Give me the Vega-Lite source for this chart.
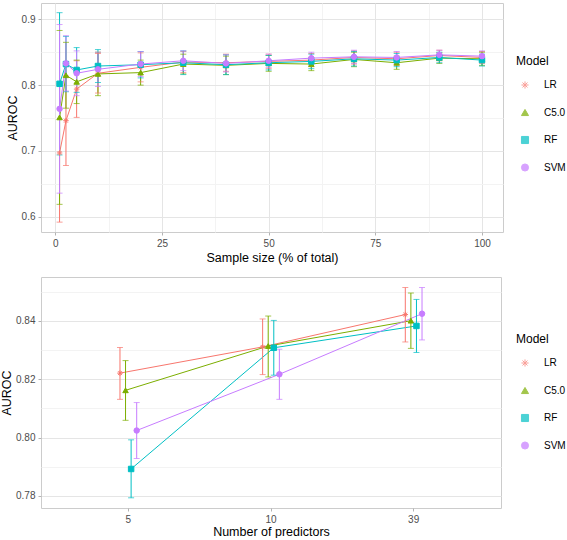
{
  "$schema": "https://vega.github.io/schema/vega-lite/v6.json",
  "padding": {"left": 0, "top": 2, "right": 0, "bottom": 0},
  "datasets": {
    "sample": [
      {"Model":"LR","x":1,"AUROC":0.697,"lo":0.592,"hi":0.802},
      {"Model":"LR","x":2.5,"AUROC":0.746,"lo":0.678,"hi":0.814},
      {"Model":"LR","x":5,"AUROC":0.794,"lo":0.751,"hi":0.837},
      {"Model":"LR","x":10,"AUROC":0.818,"lo":0.788,"hi":0.848},
      {"Model":"LR","x":20,"AUROC":0.827,"lo":0.805,"hi":0.849},
      {"Model":"LR","x":30,"AUROC":0.835,"lo":0.819,"hi":0.851},
      {"Model":"LR","x":40,"AUROC":0.834,"lo":0.821,"hi":0.847},
      {"Model":"LR","x":50,"AUROC":0.836,"lo":0.825,"hi":0.847},
      {"Model":"LR","x":60,"AUROC":0.838,"lo":0.828,"hi":0.848},
      {"Model":"LR","x":70,"AUROC":0.842,"lo":0.832,"hi":0.852},
      {"Model":"LR","x":80,"AUROC":0.840,"lo":0.830,"hi":0.850},
      {"Model":"LR","x":90,"AUROC":0.845,"lo":0.837,"hi":0.853},
      {"Model":"LR","x":100,"AUROC":0.842,"lo":0.833,"hi":0.851},
      {"Model":"C5.0","x":1,"AUROC":0.751,"lo":0.619,"hi":0.883},
      {"Model":"C5.0","x":2.5,"AUROC":0.815,"lo":0.765,"hi":0.865},
      {"Model":"C5.0","x":5,"AUROC":0.805,"lo":0.772,"hi":0.838},
      {"Model":"C5.0","x":10,"AUROC":0.817,"lo":0.784,"hi":0.850},
      {"Model":"C5.0","x":20,"AUROC":0.819,"lo":0.800,"hi":0.838},
      {"Model":"C5.0","x":30,"AUROC":0.832,"lo":0.817,"hi":0.847},
      {"Model":"C5.0","x":40,"AUROC":0.830,"lo":0.816,"hi":0.844},
      {"Model":"C5.0","x":50,"AUROC":0.833,"lo":0.821,"hi":0.845},
      {"Model":"C5.0","x":60,"AUROC":0.832,"lo":0.822,"hi":0.842},
      {"Model":"C5.0","x":70,"AUROC":0.839,"lo":0.828,"hi":0.850},
      {"Model":"C5.0","x":80,"AUROC":0.834,"lo":0.824,"hi":0.844},
      {"Model":"C5.0","x":90,"AUROC":0.841,"lo":0.833,"hi":0.849},
      {"Model":"C5.0","x":100,"AUROC":0.840,"lo":0.830,"hi":0.850},
      {"Model":"RF","x":1,"AUROC":0.802,"lo":0.694,"hi":0.910},
      {"Model":"RF","x":2.5,"AUROC":0.832,"lo":0.790,"hi":0.874},
      {"Model":"RF","x":5,"AUROC":0.823,"lo":0.789,"hi":0.857},
      {"Model":"RF","x":10,"AUROC":0.829,"lo":0.804,"hi":0.854},
      {"Model":"RF","x":20,"AUROC":0.831,"lo":0.811,"hi":0.851},
      {"Model":"RF","x":30,"AUROC":0.834,"lo":0.816,"hi":0.852},
      {"Model":"RF","x":40,"AUROC":0.831,"lo":0.816,"hi":0.846},
      {"Model":"RF","x":50,"AUROC":0.834,"lo":0.823,"hi":0.845},
      {"Model":"RF","x":60,"AUROC":0.836,"lo":0.825,"hi":0.847},
      {"Model":"RF","x":70,"AUROC":0.840,"lo":0.829,"hi":0.851},
      {"Model":"RF","x":80,"AUROC":0.838,"lo":0.828,"hi":0.848},
      {"Model":"RF","x":90,"AUROC":0.842,"lo":0.834,"hi":0.850},
      {"Model":"RF","x":100,"AUROC":0.838,"lo":0.829,"hi":0.847},
      {"Model":"SVM","x":1,"AUROC":0.764,"lo":0.636,"hi":0.892},
      {"Model":"SVM","x":2.5,"AUROC":0.833,"lo":0.791,"hi":0.875},
      {"Model":"SVM","x":5,"AUROC":0.818,"lo":0.784,"hi":0.852},
      {"Model":"SVM","x":10,"AUROC":0.824,"lo":0.798,"hi":0.850},
      {"Model":"SVM","x":20,"AUROC":0.832,"lo":0.813,"hi":0.851},
      {"Model":"SVM","x":30,"AUROC":0.837,"lo":0.822,"hi":0.852},
      {"Model":"SVM","x":40,"AUROC":0.833,"lo":0.820,"hi":0.846},
      {"Model":"SVM","x":50,"AUROC":0.837,"lo":0.827,"hi":0.847},
      {"Model":"SVM","x":60,"AUROC":0.841,"lo":0.832,"hi":0.850},
      {"Model":"SVM","x":70,"AUROC":0.843,"lo":0.833,"hi":0.853},
      {"Model":"SVM","x":80,"AUROC":0.842,"lo":0.833,"hi":0.851},
      {"Model":"SVM","x":90,"AUROC":0.846,"lo":0.839,"hi":0.853},
      {"Model":"SVM","x":100,"AUROC":0.844,"lo":0.836,"hi":0.852}
    ],
    "pred": [
      {"Model":"LR","npred":5,"AUROC":0.8221,"lo":0.8131,"hi":0.8309},
      {"Model":"LR","npred":10,"AUROC":0.8311,"lo":0.8216,"hi":0.8407},
      {"Model":"LR","npred":39,"AUROC":0.8422,"lo":0.8328,"hi":0.8515},
      {"Model":"C5.0","npred":5,"AUROC":0.8162,"lo":0.8059,"hi":0.8264},
      {"Model":"C5.0","npred":10,"AUROC":0.8314,"lo":0.8208,"hi":0.8417},
      {"Model":"C5.0","npred":39,"AUROC":0.8401,"lo":0.8306,"hi":0.8496},
      {"Model":"RF","npred":5,"AUROC":0.7892,"lo":0.7793,"hi":0.7992},
      {"Model":"RF","npred":10,"AUROC":0.8308,"lo":0.8214,"hi":0.8402},
      {"Model":"RF","npred":39,"AUROC":0.8383,"lo":0.8292,"hi":0.8474},
      {"Model":"SVM","npred":5,"AUROC":0.8024,"lo":0.7928,"hi":0.8120},
      {"Model":"SVM","npred":10,"AUROC":0.8217,"lo":0.8131,"hi":0.8303},
      {"Model":"SVM","npred":39,"AUROC":0.8425,"lo":0.8335,"hi":0.8515}
    ]
  },
  "vconcat": [
    {
      "width": 462,
      "height": 229,
      "data": {"name": "sample"},
      "encoding": {
        "x": {"field": "x", "type": "quantitative", "title": "Sample size (% of total)",
          "scale": {"domain": [-3.35, 104.92], "nice": false, "zero": false},
          "axis": {"values": [0, 12.5, 25, 37.5, 50, 62.5, 75, 87.5, 100], "titlePadding": 3,
            "labelExpr": "datum.value % 25 == 0 ? datum.label : ''",
            "gridColor": {"condition": {"test": "datum.value % 25 == 0", "value": "#E5E5E5"}, "value": "#F3F3F3"},
            "tickOpacity": {"condition": {"test": "datum.value % 25 == 0", "value": 1}, "value": 0}}},
        "y": {"field": "AUROC", "type": "quantitative", "title": "AUROC",
          "scale": {"domain": [0.577, 0.9247], "nice": false, "zero": false},
          "axis": {"values": [0.6, 0.65, 0.7, 0.75, 0.8, 0.85, 0.9], "format": ".1f",
            "labelExpr": "abs(datum.value*10 - round(datum.value*10)) < 0.01 ? datum.label : ''",
            "gridColor": {"condition": {"test": "abs(datum.value*10 - round(datum.value*10)) < 0.01", "value": "#E5E5E5"}, "value": "#F3F3F3"},
            "tickOpacity": {"condition": {"test": "abs(datum.value*10 - round(datum.value*10)) < 0.01", "value": 1}, "value": 0}}},
        "color": {"field": "Model", "type": "nominal",
          "scale": {"domain": ["LR", "C5.0", "RF", "SVM"], "range": ["#F8766D", "#7CAE00", "#00BFC4", "#C77CFF"]},
          "legend": {"title": "Model", "orient": "none", "legendX": 475, "legendY": 53}}
      },
      "layer": [
        {"mark": {"type": "line", "strokeWidth": 1}},
        {"mark": {"type": "rule", "strokeWidth": 1},
          "encoding": {"y": {"field": "lo", "type": "quantitative", "title": "AUROC"}, "y2": {"field": "hi"}}},
        {"mark": {"type": "tick", "orient": "horizontal", "size": 6, "thickness": 1},
          "encoding": {"y": {"field": "lo", "type": "quantitative", "title": "AUROC"}}},
        {"mark": {"type": "tick", "orient": "horizontal", "size": 6, "thickness": 1},
          "encoding": {"y": {"field": "hi", "type": "quantitative", "title": "AUROC"}}},
        {"mark": {"type": "point", "filled": true, "size": 30, "opacity": 1, "strokeWidth": 1},
          "encoding": {
            "stroke": {"field": "Model", "type": "nominal",
              "scale": {"domain": ["LR", "C5.0", "RF", "SVM"], "range": ["#F8766D", "#7CAE00", "#00BFC4", "#C77CFF"]},
              "legend": {"title": "Model", "orient": "none", "legendX": 475, "legendY": 53}},
            "shape": {"field": "Model", "type": "nominal",
              "scale": {"domain": ["LR", "C5.0", "RF", "SVM"], "range": ["M-1,0L1,0M0,-1L0,1M-0.7,-0.7L0.7,0.7M-0.7,0.7L0.7,-0.7", "triangle-up", "square", "circle"]},
              "legend": {"title": "Model", "orient": "none", "legendX": 475, "legendY": 53}}
          }}
      ]
    },
    {
      "width": 460,
      "height": 231,
      "data": {"name": "pred"},
      "encoding": {
        "x": {"field": "npred", "type": "ordinal", "sort": [5, 10, 39], "title": "Number of predictors",
          "scale": {"paddingInner": 0.8437, "paddingOuter": 0.534},
          "axis": {"labelAngle": 0, "bandPosition": 0.5, "titlePadding": 1}},
        "xOffset": {"field": "Model", "type": "nominal", "sort": ["LR", "C5.0", "RF", "SVM"],
          "scale": {"paddingInner": 0, "paddingOuter": 0}},
        "y": {"field": "AUROC", "type": "quantitative", "title": "AUROC",
          "scale": {"domain": [0.7758, 0.8551], "nice": false, "zero": false},
          "axis": {"values": [0.78, 0.79, 0.8, 0.81, 0.82, 0.83, 0.84, 0.85], "format": ".2f",
            "labelExpr": "round(datum.value*100) % 2 == 0 ? datum.label : ''",
            "gridColor": {"condition": {"test": "round(datum.value*100) % 2 == 0", "value": "#E5E5E5"}, "value": "#F3F3F3"},
            "tickOpacity": {"condition": {"test": "round(datum.value*100) % 2 == 0", "value": 1}, "value": 0}}},
        "color": {"field": "Model", "type": "nominal",
          "scale": {"domain": ["LR", "C5.0", "RF", "SVM"], "range": ["#F8766D", "#7CAE00", "#00BFC4", "#C77CFF"]},
          "legend": {"title": "Model", "orient": "none", "legendX": 475, "legendY": 57}}
      },
      "layer": [
        {"mark": {"type": "line", "strokeWidth": 1}},
        {"mark": {"type": "rule", "strokeWidth": 1},
          "encoding": {"y": {"field": "lo", "type": "quantitative", "title": "AUROC"}, "y2": {"field": "hi"}}},
        {"mark": {"type": "tick", "orient": "horizontal", "size": 6, "thickness": 1},
          "encoding": {"y": {"field": "lo", "type": "quantitative", "title": "AUROC"}}},
        {"mark": {"type": "tick", "orient": "horizontal", "size": 6, "thickness": 1},
          "encoding": {"y": {"field": "hi", "type": "quantitative", "title": "AUROC"}}},
        {"mark": {"type": "point", "filled": true, "size": 30, "opacity": 1, "strokeWidth": 1},
          "encoding": {
            "stroke": {"field": "Model", "type": "nominal",
              "scale": {"domain": ["LR", "C5.0", "RF", "SVM"], "range": ["#F8766D", "#7CAE00", "#00BFC4", "#C77CFF"]},
              "legend": {"title": "Model", "orient": "none", "legendX": 475, "legendY": 57}},
            "shape": {"field": "Model", "type": "nominal",
              "scale": {"domain": ["LR", "C5.0", "RF", "SVM"], "range": ["M-1,0L1,0M0,-1L0,1M-0.7,-0.7L0.7,0.7M-0.7,0.7L0.7,-0.7", "triangle-up", "square", "circle"]},
              "legend": {"title": "Model", "orient": "none", "legendX": 475, "legendY": 57}}
          }}
      ]
    }
  ],
  "spacing": 12,
  "resolve": {
    "scale": {"x": "independent", "y": "independent", "color": "independent", "stroke": "independent", "shape": "independent", "xOffset": "independent"},
    "legend": {"color": "independent", "stroke": "independent", "shape": "independent"}
  },
  "config": {
    "font": "Liberation Sans",
    "view": {"stroke": "#CCCCCC", "strokeWidth": 1},
    "axis": {"domain": false, "labelColor": "#4D4D4D", "labelFontSize": 10, "titleFontSize": 12.5,
      "titleFontWeight": "normal", "titleColor": "#000000", "tickColor": "#B3B3B3", "tickSize": 3,
      "labelPadding": 3, "gridColor": "#E5E5E5", "gridWidth": 1},
    "axisX": {"labelPadding": 3},
    "axisY": {"titlePadding": 2},
    "legend": {"titleFontSize": 12, "titleFontWeight": "normal", "titleColor": "#000000",
      "labelFontSize": 10, "labelColor": "#000000", "symbolSize": 50, "symbolStrokeWidth": 1,
      "rowPadding": 15.5, "titlePadding": 12, "symbolOffset": 4, "labelOffset": 14}
  }
}
